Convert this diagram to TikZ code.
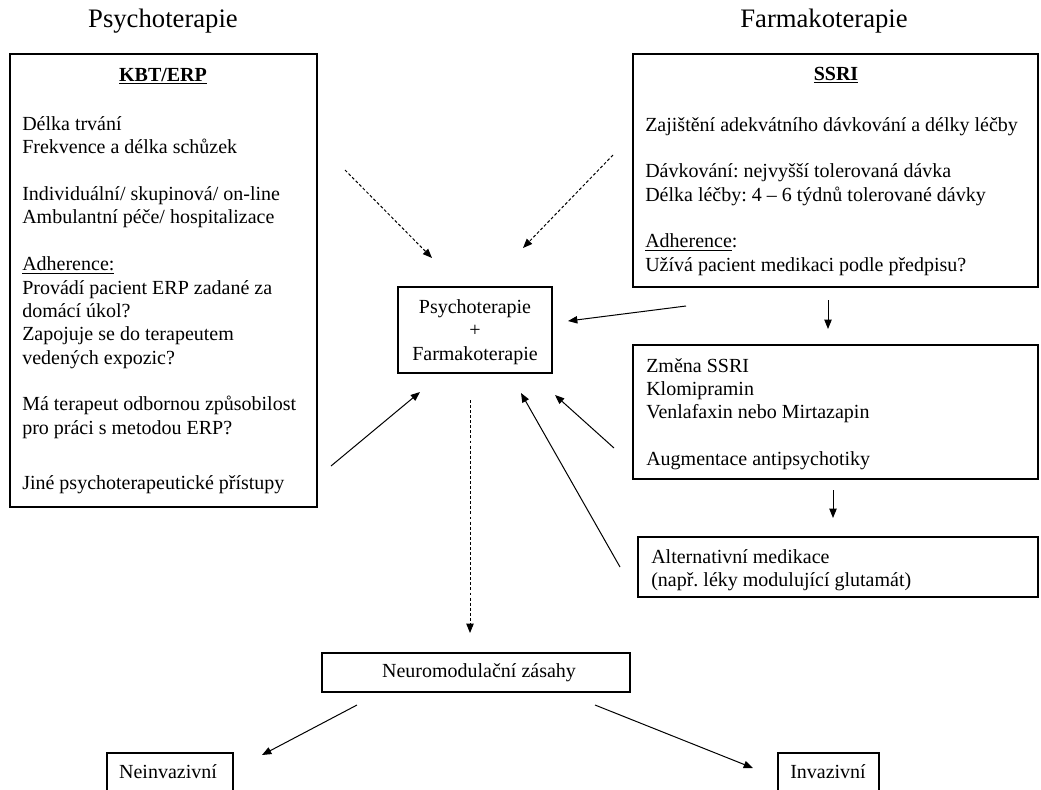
\documentclass[tikz,border=0pt]{standalone}
\usepackage{fontspec}
\setmainfont{Liberation Serif}
\usetikzlibrary{arrows.meta,fit}
\newcommand\myul[1]{\setbox0\hbox{#1}\rlap{\rule[-2.2pt]{\wd0}{0.7pt}}\box0}
\frenchspacing
\begin{document}
\begin{tikzpicture}[x=0.75pt,y=-0.75pt]
\tikzset{
  box/.style={draw, line width=0.9pt, inner sep=0pt},
  body/.style={font=\fontsize{15pt}{17.5pt}\selectfont, inner sep=0pt},
  boldtitle/.style={font=\fontsize{15pt}{17.5pt}\selectfont\bfseries, inner sep=0pt},
  bigtitle/.style={font=\fontsize{20pt}{24pt}\selectfont, inner sep=0pt},
  arr/.style={line width=0.75pt, -{Triangle[length=7pt,width=5.5pt]}},
  darr/.style={arr, dash pattern=on 2.2pt off 1.6pt},
}
\fill[white] (0,0) rectangle (1041,789);
\clip (0,0) rectangle (1041,789);

% column titles
\node[bigtitle, anchor=base] (tpsy) at (163,27) {Psychoterapie};
\node[bigtitle, anchor=base] (tfarm) at (824,27) {Farmakoterapie};

% KBT/ERP box
\node[box, fit={(10,54) (317,507)}] (kbt) {};
\node[boldtitle, anchor=base] (kbttitle) at (163,81) {\myul{KBT/ERP}};
\node[body, anchor=north west, align=left] (kbttext) at (22,116.3) {%
Délka trvání\\
Frekvence a délka schůzek\\[17.6pt]
Individuální/ skupinová/ on-line\\
Ambulantní péče/ hospitalizace\\[17.6pt]
\myul{Adherence:}\\
Provádí pacient ERP zadané za\\
domácí úkol?\\
Zapojuje se do terapeutem\\
vedených expozic?\\[17.6pt]
Má terapeut odbornou způsobilost\\
pro práci s metodou ERP?\\[24pt]
Jiné psychoterapeutické přístupy};

% SSRI box
\node[box, fit={(633,54) (1038,287)}] (ssri) {};
\node[boldtitle, anchor=base] (ssrititle) at (836,80) {\myul{SSRI}};
\node[body, anchor=north west, align=left] (ssritext) at (645,117) {%
Zajištění adekvátního dávkování a délky léčby\\[17.5pt]
Dávkování: nejvyšší tolerovaná dávka\\
Délka léčby: 4 -- 6 týdnů tolerované dávky\\[17.5pt]
\myul{Adherence}:\\
Užívá pacient medikaci podle předpisu?};

% combined box
\node[box, fit={(398,287) (552,373)}] (comb) {};
\node[body, anchor=north, align=center] (combtext) at (475,299.3) {%
Psychoterapie\\
+\\
Farmakoterapie};

% Zmena box
\node[box, fit={(633,345) (1038,479)}] (zmena) {};
\node[body, anchor=north west, align=left] (zmenatext) at (646,358) {%
Změna SSRI\\
Klomipramin\\
Venlafaxin nebo Mirtazapin\\[17.5pt]
Augmentace antipsychotiky};

% Alternative box
\node[box, fit={(638,537) (1038,597)}] (alt) {};
\node[body, anchor=north west, align=left] (alttext) at (651,549.3) {%
Alternativní medikace\\
(např. léky modulující glutamát)};

% Neuromodulation box
\node[box, fit={(322,653) (630,692)}] (neuro) {};
\node[body, anchor=base] (neurotext) at (479,677) {Neuromodulační zásahy};

% bottom boxes (cut by the page edge)
\node[box, fit={(107,753) (233,812)}] (neinv) {};
\node[body, anchor=base] (neinvtext) at (168,778) {Neinvazivní};
\node[box, fit={(778,753) (879,812)}] (inv) {};
\node[body, anchor=base] (invtext) at (828,778) {Invazivní};

% connector end points
\coordinate (d1s) at (345,170);  \coordinate (d1e) at (432,258);
\coordinate (d2s) at (613,155);  \coordinate (d2e) at (523,248);
\coordinate (s1s) at (686,306);  \coordinate (s1e) at (568,321);
\coordinate (k1s) at (331,466);  \coordinate (k1e) at (420,392);
\coordinate (z1s) at (614,448);  \coordinate (z1e) at (555,395);
\coordinate (a1s) at (620,567);  \coordinate (a1e) at (521,393);
\coordinate (v1s) at (828,300);  \coordinate (v1e) at (828,329);
\coordinate (v2s) at (833,490);  \coordinate (v2e) at (833,518);
\coordinate (d3s) at (470,400);  \coordinate (d3e) at (470,633);
\coordinate (n1s) at (357,705);  \coordinate (n1e) at (262,755);
\coordinate (n2s) at (595,705);  \coordinate (n2e) at (753,768);

\draw[darr] (d1s) -- (d1e);
\draw[darr] (d2s) -- (d2e);
\draw[arr] (s1s) -- (s1e);
\draw[arr] (k1s) -- (k1e);
\draw[arr] (z1s) -- (z1e);
\draw[arr] (a1s) -- (a1e);
\draw[arr] (v1s) -- (v1e);
\draw[arr] (v2s) -- (v2e);
\draw[darr] (d3s) -- (d3e);
\draw[arr] (n1s) -- (n1e);
\draw[arr] (n2s) -- (n2e);
\end{tikzpicture}
\end{document}
